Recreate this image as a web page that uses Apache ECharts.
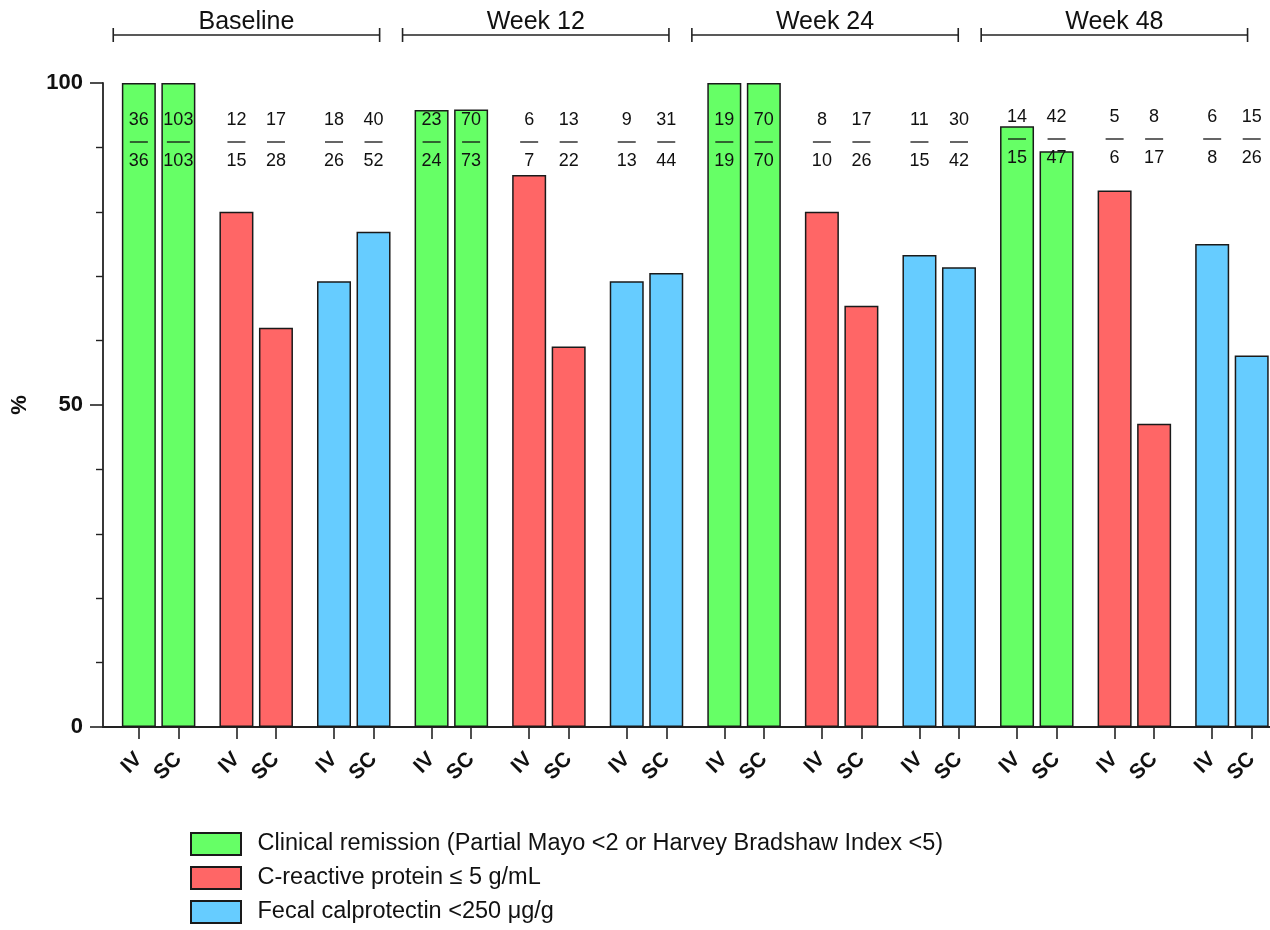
<!DOCTYPE html>
<html>
<head>
<meta charset="utf-8">
<script src="https://cdn.jsdelivr.net/npm/echarts@6/dist/echarts.min.js"></script>
<style>
html,body{margin:0;padding:0;background:#fff;}
#chart{width:1270px;height:930px;}
</style>
</head>
<body>
<div id="chart"></div>
<script>
// ---- data ----
const timepoints = ['Baseline', 'Week 12', 'Week 24', 'Week 48'];
const arms = ['IV', 'SC'];
const measures = [
  'Clinical remission (Partial Mayo <2 or Harvey Bradshaw Index <5)',
  'C-reactive protein \u2264 5 g/mL',
  'Fecal calprotectin <250 \u03bcg/g'
];
// values (%), order: Baseline IV, Baseline SC, Wk12 IV, Wk12 SC, Wk24 IV, Wk24 SC, Wk48 IV, Wk48 SC
const remissionPct = [100, 100, 95.8, 95.9, 100, 100, 93.3, 89.4];
const crpPct       = [80, 62, 85.7, 59.1, 80, 65.4, 83.3, 47.1];
const fcpPct       = [69.2, 76.9, 69.2, 70.5, 73.3, 71.4, 75, 57.7];
const remissionNum = [36, 103, 23, 70, 19, 70, 14, 42];
const remissionDen = [36, 103, 24, 73, 19, 70, 15, 47];
const crpNum       = [12, 17, 6, 13, 8, 17, 5, 8];
const crpDen       = [15, 28, 7, 22, 10, 26, 6, 17];
const fcpNum       = [18, 40, 9, 31, 11, 30, 6, 15];
const fcpDen       = [26, 52, 13, 44, 15, 42, 8, 26];
const yTicks = [0, 50, 100];

// ---- layout helpers ----
const FONT = '"Liberation Sans", Arial, Helvetica, sans-serif';
const colors = ['#66FF66', '#FF6666', '#66CCFF'];
const ARM_OFF = 0.2025;
const pctSets = [remissionPct, crpPct, fcpPct];
const numSets = [remissionNum, crpNum, fcpNum];
const denSets = [remissionDen, crpDen, fcpDen];

function xPos(t, m, a) { return t * 3 + m + (a === 0 ? -ARM_OFF : ARM_OFF); }

const tickVals = [];
const tickLabels = [];
for (let t = 0; t < timepoints.length; t++) {
  for (let m = 0; m < measures.length; m++) {
    for (let a = 0; a < arms.length; a++) {
      tickVals.push(xPos(t, m, a));
      tickLabels.push(arms[a]);
    }
  }
}
function armLabel(v) {
  let best = 0, bd = Infinity;
  tickVals.forEach((tv, i) => { const d = Math.abs(tv - v); if (d < bd) { bd = d; best = i; } });
  return tickLabels[best];
}

const barSeries = measures.map((name, m) => {
  const data = [];
  for (let t = 0; t < timepoints.length; t++) {
    for (let a = 0; a < arms.length; a++) {
      data.push([xPos(t, m, a), pctSets[m][t * 2 + a]]);
    }
  }
  return {
    name: name,
    type: 'bar',
    data: data,
    barWidth: 34,
    barGap: '-100%',
    itemStyle: { color: colors[m], borderColor: '#1a1a1a', borderWidth: 1.5 },
    z: 2
  };
});

const fracData = [];
for (let t = 0; t < timepoints.length; t++) {
  for (let m = 0; m < measures.length; m++) {
    for (let a = 0; a < arms.length; a++) {
      fracData.push([xPos(t, m, a), 100, numSets[m][t * 2 + a], denSets[m][t * 2 + a], t]);
    }
  }
}

const bracketData = timepoints.map((name, t) => [t * 2.965 - 0.465, t * 2.965 - 0.465 + 2.73, t]);

const txt = (s, x, y, size, weight) => ({
  type: 'text',
  style: { text: s, x: x, y: y, align: 'center', verticalAlign: 'middle',
           fontSize: size, fontFamily: FONT, fontWeight: weight || 'normal', fill: '#111' }
});

const option = {
  animation: false,
  backgroundColor: '#fff',
  grid: { left: 103, right: 0, top: 83, bottom: 203, containLabel: false },
  xAxis: {
    type: 'value',
    min: -0.57,
    max: 11.39,
    splitLine: { show: false },
    axisLine: { show: true, onZero: false, lineStyle: { color: '#222', width: 1.8 } },
    axisTick: { show: true, customValues: tickVals, length: 12, lineStyle: { color: '#222', width: 1.6 } },
    axisLabel: {
      show: true,
      customValues: tickVals,
      formatter: (v) => armLabel(v),
      rotate: 45,
      margin: 29,
      hideOverlap: false,
      fontSize: 21,
      fontWeight: 'bold',
      fontFamily: FONT,
      color: '#111'
    }
  },
  yAxis: {
    type: 'value',
    min: 0,
    max: 100,
    interval: 50,
    name: '%',
    nameLocation: 'middle',
    nameRotate: 90,
    nameGap: 72,
    nameTextStyle: { fontSize: 22, fontWeight: 'bold', fontFamily: FONT, color: '#111' },
    splitLine: { show: false },
    axisLine: { show: true, onZero: false, lineStyle: { color: '#222', width: 1.8 } },
    axisTick: { show: true, length: 13, lineStyle: { color: '#222', width: 1.6 } },
    minorTick: { show: true, splitNumber: 5, length: 7, lineStyle: { color: '#222', width: 1.4 } },
    axisLabel: {
      margin: 20,
      fontSize: 22,
      fontWeight: 'bold',
      fontFamily: FONT,
      color: '#111'
    }
  },
  legend: {
    data: measures,
    orient: 'vertical',
    left: 190,
    top: 832,
    height: 98,
    padding: 0,
    itemWidth: 50,
    itemHeight: 22,
    itemGap: 10,
    icon: 'rect',
    selectedMode: false,
    textStyle: { fontSize: 23.5, lineHeight: 22, fontFamily: FONT, color: '#111', padding: [0, 0, 0, 11.5] }
  },
  series: barSeries.concat([
    {
      type: 'custom',
      name: 'fractions',
      data: fracData,
      dimensions: ['x', 'y', 'num', 'den', 't'],
      encode: { x: 0, y: 1 },
      clip: false,
      z: 10,
      silent: true,
      renderItem: function (params, api) {
        const pt = api.coord([api.value(0), 100]);
        const num = String(api.value(2));
        const den = String(api.value(3));
        const dy = api.value(4) === 3 ? -3 : 0;
        const cx = pt[0], y0 = pt[1] + dy;
        const w = (num.length > 2 || den.length > 2) ? 23 : 18;
        return {
          type: 'group',
          children: [
            txt(num, cx, y0 + 37, 18),
            { type: 'line', shape: { x1: cx - w / 2, y1: y0 + 59, x2: cx + w / 2, y2: y0 + 59 },
              style: { stroke: '#111', lineWidth: 1.3 } },
            txt(den, cx, y0 + 78, 18)
          ]
        };
      }
    },
    {
      type: 'custom',
      name: 'brackets',
      data: bracketData,
      dimensions: ['x0', 'x1', 't'],
      encode: { x: [0, 1] },
      clip: false,
      z: 10,
      silent: true,
      renderItem: function (params, api) {
        const top = api.coord([0, 100])[1];
        const p0 = api.coord([api.value(0), 100]);
        const p1 = api.coord([api.value(1), 100]);
        const ly = top - 48;
        const label = timepoints[api.value(2)];
        return {
          type: 'group',
          children: [
            { type: 'line', shape: { x1: p0[0], y1: ly, x2: p1[0], y2: ly }, style: { stroke: '#222', lineWidth: 1.6 } },
            { type: 'line', shape: { x1: p0[0], y1: ly - 7, x2: p0[0], y2: ly + 7 }, style: { stroke: '#222', lineWidth: 1.6 } },
            { type: 'line', shape: { x1: p1[0], y1: ly - 7, x2: p1[0], y2: ly + 7 }, style: { stroke: '#222', lineWidth: 1.6 } },
            txt(label, (p0[0] + p1[0]) / 2, ly - 13, 25)
          ]
        };
      }
    }
  ])
};

const chart = echarts.init(document.getElementById('chart'), null, { renderer: 'canvas' });
chart.setOption(option);
</script>
</body>
</html>
